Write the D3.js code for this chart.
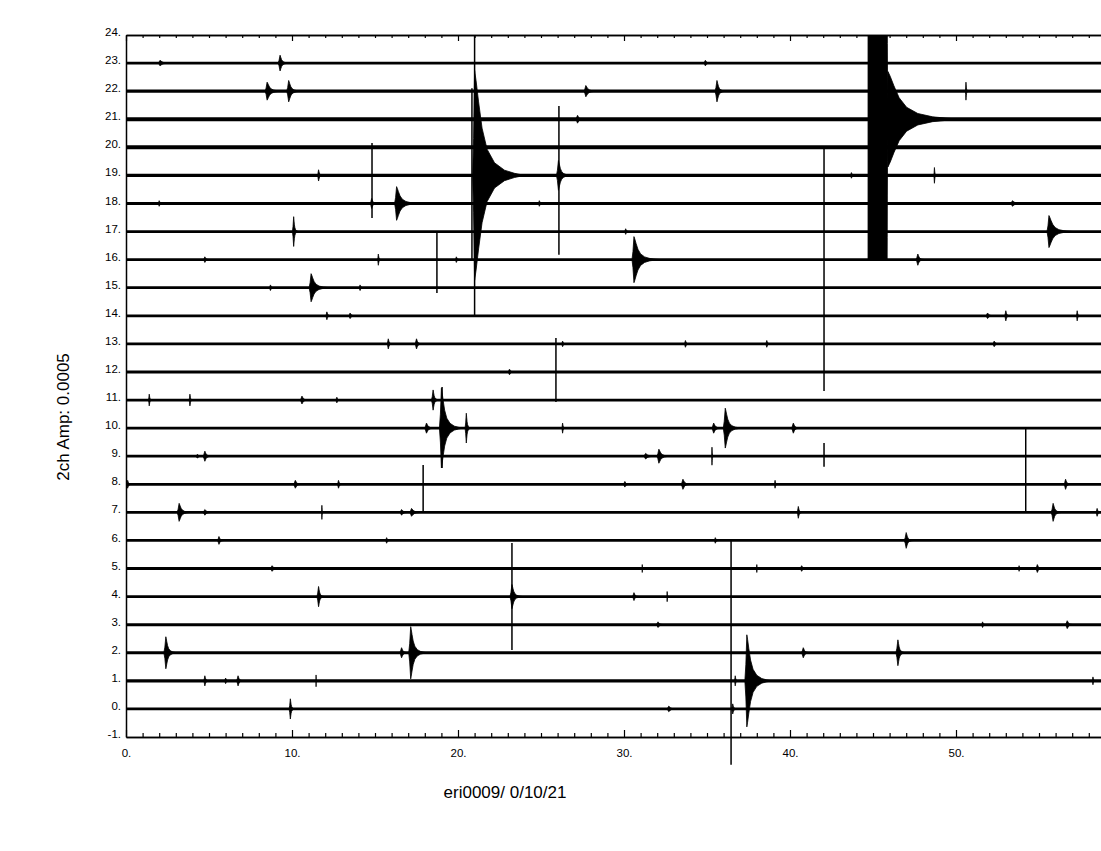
<!DOCTYPE html>
<html>
<head>
<meta charset="utf-8">
<script src="https://cdn.jsdelivr.net/npm/d3@7"></script>
<style>
  body { margin: 0; background: #fff; }
  text { font-family: "Liberation Sans", Arial, sans-serif; fill: #000; }
</style>
</head>
<body>
<div id="chart"></div>
<script>
// hour traces and their background noise level (trace units)
var rows = d3.range(0, 24);
var rowNoise = [0.05, 0.055, 0.055, 0.055, 0.05, 0.05, 0.05, 0.05, 0.05, 0.05, 0.05, 0.05,
                0.055, 0.05, 0.05, 0.05, 0.05, 0.05, 0.05, 0.055, 0.07, 0.07, 0.055, 0.05];

// events: [trace, onset minute, peak amplitude (trace units), coda (min), plateau (min)]
var events = [
  [23, 2.05, 0.10, 0.8], [23, 9.28, 0.28, 0.6], [23, 34.9, 0.10, 0.4],
  [22, 8.5, 0.32, 1.0], [22, 9.8, 0.38, 0.8], [22, 27.7, 0.20, 0.8], [22, 35.6, 0.38, 0.6], [22, 50.6, 0.32, 0.15],
  [21, 27.2, 0.14, 0.5], [21, 44.7, 6.0, 0.1, 1.15], [21, 45.9, 1.7, 4.5],
  [19, 11.6, 0.20, 0.3], [19, 21.0, 3.74, 3.0], [19, 26.05, 0.53, 0.8], [19, 43.7, 0.10, 0.3], [19, 48.7, 0.28, 0.15],
  [18, 2.0, 0.10, 0.3], [18, 14.8, 0.18, 0.4], [18, 16.3, 0.60, 1.4], [18, 24.9, 0.10, 0.3], [18, 53.4, 0.10, 0.8],
  [17, 10.1, 0.53, 0.3], [17, 30.1, 0.10, 0.3], [17, 55.6, 0.57, 1.5],
  [16, 4.75, 0.10, 0.4], [16, 15.2, 0.20, 0.2], [16, 19.9, 0.10, 0.3], [16, 30.6, 0.82, 1.6], [16, 47.7, 0.20, 0.5],
  [15, 8.7, 0.10, 0.3], [15, 11.15, 0.50, 1.2], [15, 14.1, 0.10, 0.3],
  [14, 12.1, 0.14, 0.3], [14, 13.5, 0.10, 0.4], [14, 51.9, 0.10, 0.5], [14, 53.0, 0.18, 0.3], [14, 57.3, 0.18, 0.2],
  [13, 15.8, 0.18, 0.3], [13, 17.5, 0.18, 0.4], [13, 26.3, 0.10, 0.3], [13, 33.7, 0.12, 0.3], [13, 38.6, 0.12, 0.3], [13, 52.3, 0.10, 0.4],
  [12, 23.1, 0.10, 0.4],
  [11, 1.4, 0.21, 0.2], [11, 3.85, 0.21, 0.2], [11, 10.6, 0.14, 0.5], [11, 12.7, 0.10, 0.3], [11, 18.5, 0.36, 0.4],
  [10, 18.1, 0.18, 0.6], [10, 19.0, 1.42, 1.3], [10, 20.5, 0.53, 0.3], [10, 26.3, 0.18, 0.2], [10, 35.4, 0.18, 0.6], [10, 36.1, 0.71, 1.0], [10, 40.2, 0.18, 0.5],
  [9, 4.3, 0.07, 0.4], [9, 4.75, 0.18, 0.5], [9, 31.3, 0.10, 0.8], [9, 32.1, 0.25, 0.8], [9, 35.3, 0.32, 0.1],
  [8, 0.1, 0.14, 0.3], [8, 10.2, 0.14, 0.5], [8, 12.8, 0.14, 0.3], [8, 30.05, 0.10, 0.4], [8, 33.55, 0.18, 0.6], [8, 39.1, 0.14, 0.2], [8, 56.6, 0.18, 0.4],
  [7, 3.2, 0.32, 0.8], [7, 4.75, 0.10, 0.6], [7, 11.8, 0.25, 0.1], [7, 16.6, 0.10, 0.6], [7, 17.2, 0.14, 0.8], [7, 40.5, 0.21, 0.3], [7, 55.85, 0.32, 0.6], [7, 58.5, 0.14, 0.3],
  [6, 5.6, 0.14, 0.4], [6, 15.7, 0.10, 0.3], [6, 35.5, 0.10, 0.3], [6, 47.0, 0.28, 0.5],
  [5, 8.8, 0.10, 0.5], [5, 31.1, 0.14, 0.1], [5, 38.0, 0.14, 0.1], [5, 40.7, 0.10, 0.4], [5, 53.8, 0.10, 0.2], [5, 54.9, 0.14, 0.4],
  [4, 11.6, 0.36, 0.4], [4, 23.25, 0.43, 0.7], [4, 30.6, 0.14, 0.4], [4, 32.6, 0.18, 0.1],
  [3, 32.05, 0.10, 0.5], [3, 51.6, 0.10, 0.3], [3, 56.7, 0.14, 0.5],
  [2, 2.4, 0.57, 0.7], [2, 16.6, 0.18, 0.5], [2, 17.15, 0.93, 1.0], [2, 40.8, 0.18, 0.5], [2, 46.5, 0.46, 0.5],
  [1, 4.75, 0.18, 0.3], [1, 6.0, 0.10, 0.3], [1, 6.75, 0.18, 0.4], [1, 11.45, 0.21, 0.05], [1, 36.7, 0.18, 0.2], [1, 37.4, 1.64, 1.5], [1, 58.25, 0.14, 0.2],
  [0, 9.9, 0.36, 0.3], [0, 32.7, 0.10, 0.6], [0, 36.55, 0.18, 0.3]
];

// glitches: [minute, top, bottom] in trace units
var spikes = [
  [21.0, 24, 14.03], [20.84, 22.1, 16.0], [26.08, 21.47, 16.17], [14.82, 20.15, 17.48],
  [18.73, 16.98, 14.81], [42.05, 20.01, 11.32], [42.05, 9.47, 8.62], [25.9, 13.21, 10.93],
  [54.2, 10.0, 6.98], [17.9, 8.69, 6.98], [23.25, 5.91, 2.10], [36.45, 6.02, -1.99],
  [19.04, 11.46, 8.58]
];

var xTicks = [0, 10, 20, 30, 40, 50];
var yTicks = d3.range(-1, 25);
var xLabel = "eri0009/ 0/10/21";
var yLabel = "2ch Amp: 0.0005";

// recorder clips deflections beyond this (trace units)
var clipLevel = 5;

// coda envelope shape (fraction of coda length -> fraction of peak)
var codaFrac = [0, 0.03, 0.08, 0.15, 0.25, 0.4, 0.6, 0.8, 1];
var codaShape = [1, 0.9, 0.7, 0.45, 0.25, 0.12, 0.05, 0.02, 0];

var width = 1101, height = 851;

var svg = d3.select("#chart")
  .append("svg")
  .attr("width", width)
  .attr("height", height);

var x = d3.scaleLinear().domain([0, 60]).range([126, 1122]);
var y = d3.scaleLinear().domain([-1, 24]).range([737, 35]);

svg.append("clipPath")
  .attr("id", "plot-clip")
  .append("rect")
  .attr("x", x(0)).attr("y", y(24))
  .attr("width", width - x(0)).attr("height", height - y(24));

// trace lines
svg.append("g")
  .selectAll("line")
  .data(rows)
  .enter().append("line")
  .attr("x1", x(0))
  .attr("x2", x(60))
  .attr("y1", function(d) { return y(d); })
  .attr("y2", function(d) { return y(d); })
  .attr("stroke", "#000")
  .attr("stroke-width", function(d) { return 2 * (y(0) - y(rowNoise[d])); });

// event envelopes
var area = d3.area()
  .x(function(p) { return x(p.t); })
  .y0(function(p) { return y(p.row - Math.min(p.a, clipLevel)); })
  .y1(function(p) { return y(p.row + Math.min(p.a, clipLevel)); });

function envelope(ev) {
  var row = ev[0], t = ev[1], amp = ev[2], coda = ev[3], hold = ev[4] || 0;
  // short build-up before the peak, except for clipped blocks
  var rise = hold > 0 ? 0 : Math.min(0.12, coda * 0.25);
  var pts = [{row: row, t: t - rise, a: 0}, {row: row, t: t - rise * 0.5, a: amp * 0.35}, {row: row, t: t, a: amp}];
  if (hold > 0) pts.push({row: row, t: t + hold, a: amp});
  codaFrac.forEach(function(f, i) {
    pts.push({row: row, t: t + hold + f * coda, a: amp * codaShape[i]});
  });
  return pts;
}

svg.append("g")
  .attr("clip-path", "url(#plot-clip)")
  .selectAll("path")
  .data(events)
  .enter().append("path")
  .attr("d", function(d) { return area(envelope(d)); })
  .attr("fill", "#000")
  .attr("stroke", "#000")
  .attr("stroke-width", 0.8);

// glitch spikes
svg.append("g")
  .selectAll("line")
  .data(spikes)
  .enter().append("line")
  .attr("x1", function(d) { return x(d[0]); })
  .attr("x2", function(d) { return x(d[0]); })
  .attr("y1", function(d) { return y(d[1]); })
  .attr("y2", function(d) { return y(d[2]); })
  .attr("stroke", "#000")
  .attr("stroke-width", 1.5);

// frame: bottom axis, top edge, left edge
var minutes = d3.range(0, 60);
var minor = minutes.filter(function(d) { return d % 10 !== 0; });

function tickAxis(axis, vals, size) {
  return axis(x).tickValues(vals).tickSize(size).tickSizeOuter(0).tickFormat("");
}

svg.append("g").attr("transform", "translate(0," + y(-1) + ")")
  .call(tickAxis(d3.axisTop, minor, 4));
svg.append("g").attr("transform", "translate(0," + y(-1) + ")")
  .call(tickAxis(d3.axisTop, xTicks, 7));
svg.append("g").attr("transform", "translate(0," + y(24) + ")")
  .call(tickAxis(d3.axisBottom, minor, 3));
svg.append("g").attr("transform", "translate(0," + y(24) + ")")
  .call(tickAxis(d3.axisBottom, xTicks, 6));
svg.selectAll(".domain").attr("stroke-width", 1.5);
svg.selectAll(".tick line").attr("stroke-width", 1.2);

// x tick labels
var xAxis = svg.append("g")
  .attr("transform", "translate(0," + y(-1) + ")")
  .call(d3.axisBottom(x).tickValues(xTicks).tickSize(0).tickPadding(12)
    .tickFormat(function(d) { return d + "."; }));
xAxis.select(".domain").remove();
xAxis.selectAll("text")
  .style("font-family", "Liberation Sans, Arial, sans-serif")
  .style("font-size", "11.5px");

// y axis
var yAxis = svg.append("g")
  .attr("transform", "translate(" + x(0) + ",0)")
  .call(d3.axisLeft(y).tickValues(yTicks).tickSize(0).tickSizeOuter(0).tickPadding(5)
    .tickFormat(function(d) { return d + "."; }));
yAxis.select(".domain").attr("stroke-width", 1.5);
yAxis.selectAll("text")
  .attr("dy", "0.05em")
  .style("font-family", "Liberation Sans, Arial, sans-serif")
  .style("font-size", "11.5px");

// labels
svg.append("text")
  .attr("x", 505)
  .attr("y", 798)
  .attr("text-anchor", "middle")
  .style("font-size", "17px")
  .text(xLabel);

svg.append("text")
  .attr("transform", "translate(69,417) rotate(-90)")
  .attr("text-anchor", "middle")
  .style("font-size", "17px")
  .text(yLabel);
</script>
</body>
</html>
